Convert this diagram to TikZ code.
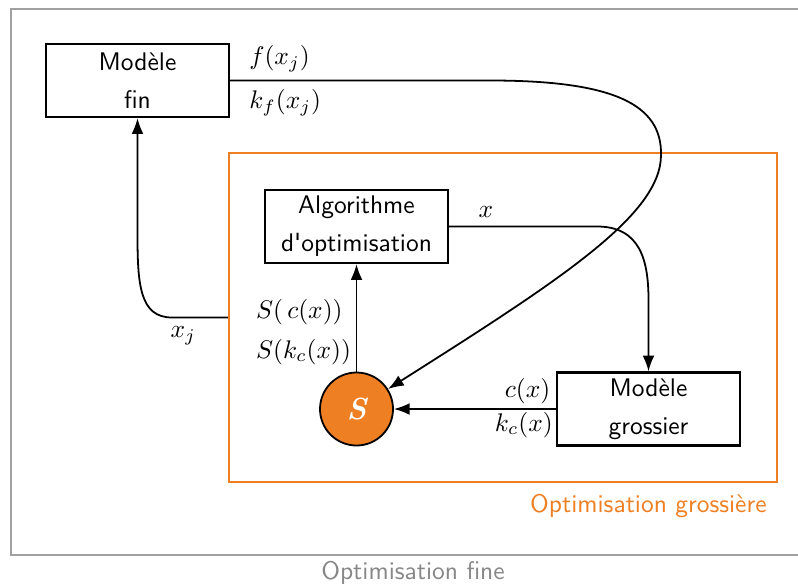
\documentclass[tikz,border=0pt]{standalone}
\usepackage{amsmath}
\usepackage{amssymb}
\usepackage{xcolor}
\usepackage{tikz}
\usetikzlibrary{arrows.meta, positioning, calc}
\definecolor{coarseorange}{RGB}{238, 127, 34}
\definecolor{framegray}{RGB}{160, 160, 160}
\definecolor{captiongray}{RGB}{135, 135, 135}

\begin{document}
\begin{tikzpicture}[
    x=0.0138cm, y=-0.0138cm,
    every node/.style={font=\sffamily, align=center},
    model/.style={draw, line width=0.9pt, minimum width=2.525cm, minimum height=1.007cm, inner sep=0pt, font=\sffamily\linespread{1.25}\selectfont},
    surrogate/.style={circle, draw, line width=0.7pt, fill=coarseorange, minimum size=1.007cm, inner sep=0pt, text=white, font=\rmfamily\large\bfseries\itshape},
    lbl/.style={font=\normalsize},
    link/.style={-{Latex}, line width=0.7pt}
]
    \useasboundingbox (0,0) rectangle (798,587);

    % Fine optimisation frame
    \draw[framegray, line width=0.8pt] (798,9) -| (11,555) -- (798,555);
    \node[text=captiongray] (finecap) at (413,573) {Optimisation fine};

    % Coarse optimisation frame
    \node[draw=coarseorange, line width=0.8pt, minimum width=7.562cm, minimum height=4.54cm] (coarse) at (503,317.5) {};
    \node[text=coarseorange, below left=1pt and 1pt of coarse.south east] (coarsecap) {Optimisation grossière};

    % Models
    \node[model] (fin) at (137.5,80.5) {Modèle\\fin};
    \node[model] (algo) at (356.5,226.5) {Algorithme\\d\textquotesingle optimisation};
    \node[model] (coarsemodel) at (648.5,409) {Modèle\\grossier};
    \node[surrogate] (S) at (356.5,409) {S};

    % Labels
    \node[lbl, above right=0pt and 4pt of fin.east] (ffine) {$f(x_j)$};
    \node[lbl, below right=0pt and 4pt of fin.east] (kfine) {$k_f(x_j)$};
    \node[lbl, above right=0pt and 8pt of algo.east] (xopt) {$x$};
    \node[lbl, below left=0pt and 9pt of coarse.west] (xj) {$x_j$};
    \node[lbl, above left=0pt and 0pt of coarsemodel.west, inner sep=2pt] (ccoarse) {$c(x)$};
    \node[lbl, below left=0pt and 0pt of coarsemodel.west, inner sep=1pt] (kcoarse) {$k_c(x)$};
    \node[lbl, anchor=base west] (sc) at (247,318) {$S(\,c(x))$};
    \node[lbl, anchor=base west] (skc) at (247,358) {$S(k_c(x))$};

    % Connections
    \draw[link] (fin.east) -- (490,80.5) .. controls (615,80.5) and (662,105) .. (661,155)
        .. controls (661,215) and (560,280) .. (S);
    \draw[link] (algo.east) -- (597,226.5) .. controls (640,226.5) and (648.5,260) .. (648.5,300) -- (coarsemodel.north);
    \draw[link] (coarsemodel.west) -- (S.east);
    \draw[link] (S.north) -- (algo.south);
    \draw[link] (coarse.west) -- (172,317.5) .. controls (140,317.5) and (137.5,285) .. (137.5,235) -- (fin.south);
\end{tikzpicture}
\end{document}
